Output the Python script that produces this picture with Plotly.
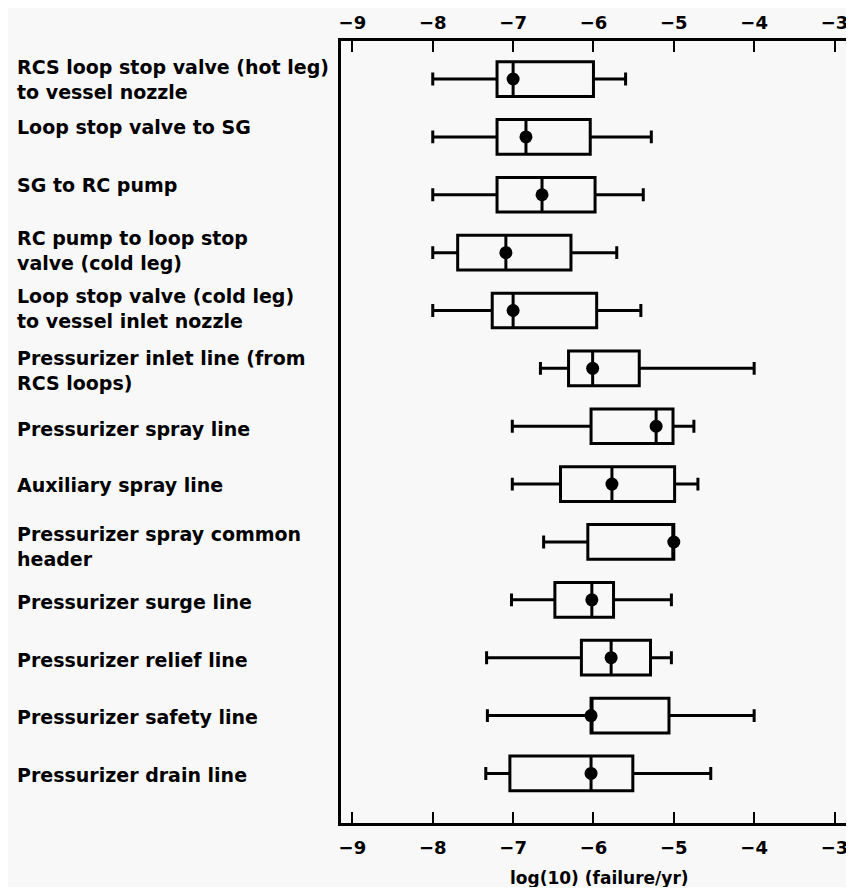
import plotly.graph_objects as go

# ---- data ----
components = [
    "RCS loop stop valve (hot leg)<br>to vessel nozzle",
    "Loop stop valve to SG",
    "SG to RC pump",
    "RC pump to loop stop<br>valve (cold leg)",
    "Loop stop valve (cold leg)<br>to vessel inlet nozzle",
    "Pressurizer inlet line (from<br>RCS loops)",
    "Pressurizer spray line",
    "Auxiliary spray line",
    "Pressurizer spray common<br>header",
    "Pressurizer surge line",
    "Pressurizer relief line",
    "Pressurizer safety line",
    "Pressurizer drain line",
]
lower_whisker = [-8.0, -8.0, -8.0, -8.0, -8.0, -6.66, -7.01, -7.01, -6.62, -7.02, -7.33, -7.32, -7.34]
q1_values = [-7.2, -7.2, -7.2, -7.69, -7.26, -6.31, -6.03, -6.41, -6.07, -6.48, -6.15, -6.03, -7.04]
median_values = [-7.0, -6.84, -6.64, -7.09, -7.0, -6.01, -5.22, -5.77, -5.0, -6.02, -5.78, -6.03, -6.03]
q3_values = [-6.0, -6.04, -5.98, -6.28, -5.96, -5.43, -5.01, -4.99, -5.0, -5.75, -5.29, -5.06, -5.51]
upper_whisker = [-5.6, -5.28, -5.38, -5.71, -5.41, -4.0, -4.75, -4.70, -5.0, -5.03, -5.03, -4.0, -4.54]
tick_values = [-9, -8, -7, -6, -5, -4, -3]
x_title = "log(10) (failure/yr)"

# ---- style ----
label_yshift = [0, 10, 10, 2, 2, -2, -3, -1, -5, -2, -2, -1, -2]
FONT = "DejaVu Sans"
BG = "#f8f8f8"

categories = [c.replace("<br>", " ") for c in components]

fig = go.Figure()
fig.add_trace(go.Box(
    y=categories, q1=q1_values, median=median_values, q3=q3_values,
    lowerfence=lower_whisker, upperfence=upper_whisker,
    orientation="h", width=0.6, whiskerwidth=0.37,
    line=dict(color="black", width=3), fillcolor="rgba(0,0,0,0)",
    boxpoints=False, showlegend=False, hoverinfo="skip",
))
fig.add_trace(go.Scatter(
    x=median_values, y=categories, mode="markers", xaxis="x2",
    marker=dict(size=13, color="black"), showlegend=False, hoverinfo="skip",
))

axis_common = dict(
    range=[-9.142, -2.832], tickvals=tick_values, ticks="inside", ticklen=11,
    tickwidth=2, tickcolor="black", showgrid=False, zeroline=False,
    tickfont=dict(family=FONT, size=18, color="black", weight="bold"),
)
# the page body adds 8px margins; keep the page from scrolling
fig.update_layout(
    width=846, height=879,
    margin=dict(l=333, r=3, t=33, b=64),
    paper_bgcolor=BG, plot_bgcolor=BG,
    xaxis=dict(**axis_common, side="bottom", showline=True, mirror=True,
               linewidth=3, linecolor="black", ticklabelstandoff=6),
    xaxis2=dict(**axis_common, side="top", overlaying="x", matches="x",
                showline=False, ticklabelstandoff=7),
    yaxis=dict(type="category", categoryorder="array", categoryarray=categories,
               range=[12.856, -0.657], showticklabels=False, ticks="",
               showline=True, mirror=True, linewidth=3, linecolor="black",
               showgrid=False, zeroline=False),
)

for cat, lab, ys in zip(categories, components, label_yshift):
    fig.add_annotation(
        x=-0.643, xref="paper", y=cat, yref="y", yshift=ys,
        text=lab, showarrow=False, xanchor="left", yanchor="middle", align="left",
        font=dict(family=FONT, size=19, color="black", weight="bold"),
    )

fig.add_annotation(
    x=0.509, xref="paper", y=-0.0697, yref="paper", text=x_title,
    showarrow=False, xanchor="center", yanchor="middle",
    font=dict(family=FONT, size=17, color="black", weight="bold"),
)

fig.write_html("out.html")
